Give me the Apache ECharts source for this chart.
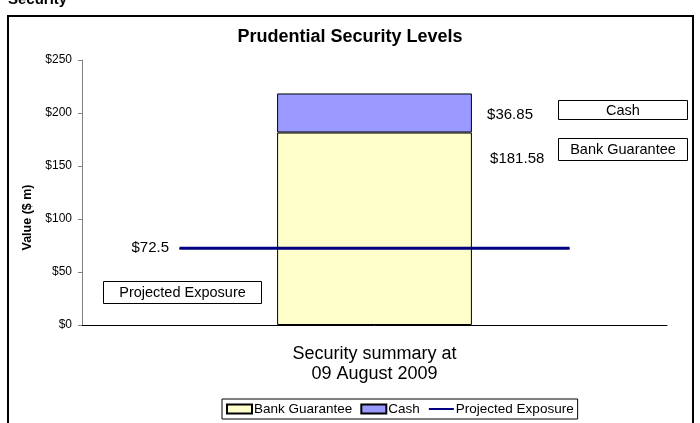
<!DOCTYPE html>
<html>
<head>
<meta charset="utf-8">
<script src="https://cdn.jsdelivr.net/npm/echarts@6/dist/echarts.min.js"></script>
<style>
html,body{margin:0;padding:0;background:#fff;}
#chart{width:700px;height:423px;}
</style>
</head>
<body>
<div id="chart"></div>
<script>
var categories = ['Security summary at\n09 August 2009'];
var bankGuarantee = [181.58];
var cash = [36.85];
var exposureSlots = ['', '', ''];
var projectedExposure = [72.5, 72.5, 72.5];
var yTicks = [0, 50, 100, 150, 200, 250];

var FONT = '"Liberation Sans", Arial, sans-serif';
var chart = echarts.init(document.getElementById('chart'), null, {renderer: 'canvas'});

function boxLabel(x, y, w, h, text) {
  return {
    type: 'group', x: x, y: y,
    children: [
      {type: 'rect', shape: {x: 0.5, y: 0.5, width: w, height: h},
       style: {fill: '#fff', stroke: '#000', lineWidth: 1}},
      {type: 'text', x: w / 2 + 0.5, y: h / 2 + 1,
       style: {text: text, fill: '#000', font: '14.5px ' + FONT, align: 'center', verticalAlign: 'middle'}}
    ]
  };
}

var labelStyle = {fontSize: 15, color: '#000', fontFamily: FONT};

var option = {
  animation: false,
  backgroundColor: '#fff',
  textStyle: {fontFamily: FONT},
  title: {
    text: 'Prudential Security Levels',
    left: 'center', top: 23,
    textStyle: {fontSize: 18, fontWeight: 'bold', color: '#000', fontFamily: FONT}
  },
  legend: {
    left: 222, top: 399,
    itemWidth: 25, itemHeight: 9, itemGap: 8,
    padding: [3, 4, 3, 4],
    borderColor: '#000', borderWidth: 1, borderRadius: 0,
    textStyle: {fontSize: 13.5, color: '#000', fontFamily: FONT, padding: [0, 0, 0, -3]},
    data: [
      {name: 'Bank Guarantee', icon: 'rect'},
      {name: 'Cash', icon: 'rect'},
      {name: 'Projected Exposure', itemStyle: {opacity: 0}}
    ]
  },
  grid: {left: 82, right: 33, top: 60, bottom: 98, containLabel: false},
  xAxis: [
    {
      type: 'category', data: categories,
      axisLine: {lineStyle: {color: '#000', width: 1}},
      axisTick: {show: false},
      axisLabel: {fontSize: 18, color: '#000', lineHeight: 20, margin: 19, fontFamily: FONT}
    },
    {
      type: 'category', data: exposureSlots, show: false, boundaryGap: true
    }
  ],
  yAxis: {
    type: 'value', min: 0, max: 250, interval: 50,
    name: 'Value ($ m)', nameLocation: 'middle', nameGap: 46, nameRotate: 90,
    nameTextStyle: {fontSize: 12.5, fontWeight: 'bold', color: '#000', fontFamily: FONT,
      padding: [0, 50, 0, 0]},
    axisLine: {show: true, lineStyle: {color: '#808080'}},
    axisTick: {show: true, length: 4, lineStyle: {color: '#808080'}},
    splitLine: {show: false},
    axisLabel: {fontSize: 12, color: '#000', margin: 10, fontFamily: FONT,
      formatter: function (v) { return yTicks.indexOf(v) >= 0 ? '$' + v : ''; }}
  },
  series: [
    {
      name: 'Bank Guarantee', type: 'bar', stack: 's', data: bankGuarantee,
      barWidth: '33.3%',
      itemStyle: {color: '#FFFFCC', borderColor: '#000', borderWidth: 1},
      label: Object.assign({show: true, position: [213, 26], align: 'left', verticalAlign: 'middle',
        formatter: function (p) { return '$' + p.value; }}, labelStyle)
    },
    {
      name: 'Cash', type: 'bar', stack: 's', data: cash,
      itemStyle: {color: '#9999FF', borderColor: '#000', borderWidth: 1},
      label: Object.assign({show: true, position: [210, 21], align: 'left', verticalAlign: 'middle',
        formatter: function (p) { return '$' + p.value; }}, labelStyle)
    },
    {
      name: 'Projected Exposure', type: 'line', xAxisIndex: 1,
      symbol: 'circle', symbolSize: 1, showSymbol: true, z: 5,
      lineStyle: {color: '#000080', width: 3},
      itemStyle: {color: '#000080'},
      data: projectedExposure.map(function (v, i) {
        return {value: v, label: {show: i === 0}};
      }),
      label: Object.assign({position: 'left', distance: 10,
        formatter: function (p) { return '$' + p.value; }}, labelStyle)
    }
  ],
  graphic: [
    {type: 'rect', shape: {x: 8, y: 16, width: 685, height: 420},
     style: {fill: 'none', stroke: '#000', lineWidth: 2}, silent: true},
    {type: 'text', x: 8, y: -8,
     style: {text: 'Security', font: 'bold 15px ' + FONT, fill: '#000', verticalAlign: 'top'}},
    boxLabel(558, 100, 129, 19, 'Cash'),
    boxLabel(558, 138, 129, 22, 'Bank Guarantee'),
    boxLabel(103, 281, 158, 22, 'Projected Exposure')
  ]
};
chart.setOption(option);
</script>
</body>
</html>
